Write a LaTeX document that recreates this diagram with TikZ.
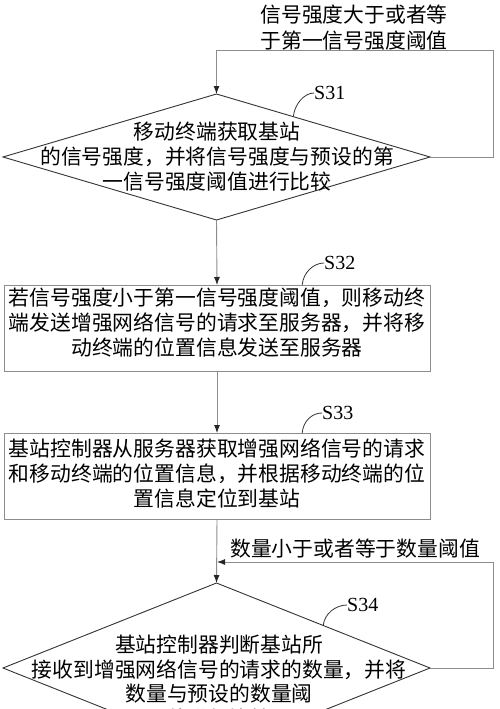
\documentclass[tikz,border=0pt]{standalone}
\usepackage{fontspec}
\setmainfont{Liberation Serif}
\newfontfamily\cjk{Noto Sans CJK SC}
\usetikzlibrary{shapes.geometric,arrows.meta,calc}
\definecolor{linegray}{gray}{0.55}
\definecolor{diagray}{gray}{0.2}
\begin{document}
\begin{tikzpicture}[x=1pt,y=-1pt,
  dia/.style={shape=diamond,draw=diagray,line width=0.9pt,inner sep=0pt,outer sep=0pt},
  stepbox/.style={shape=rectangle,draw=linegray,line width=0.9pt,inner sep=0pt,outer sep=0pt,minimum width=426pt,minimum height=86pt},
  cjktext/.style={inner sep=0pt,align=center,font=\cjk\fontsize{20.8}{25}\selectfont},
  steplabel/.style={inner sep=0pt,anchor=west,font=\fontsize{20}{22}\selectfont},
  conn/.style={draw=linegray,line width=0.9pt,-{Latex[length=8pt,width=6pt,color=black!85]}},
  plainline/.style={draw=linegray,line width=0.9pt},
  lead/.style={draw=diagray,line width=0.8pt}
]
\useasboundingbox (0,0) rectangle (500,709);
\clip (0,0) rectangle (500,709);
\fill[white] (0,0) rectangle (500,709);

% S31 diamond
\node[dia,minimum width=427pt,minimum height=126pt] (d1) at (216.5,157) {};
\node[cjktext] (t1) at (217,157) {移动终端获取基站\\的信号强度，并将信号强度与预设的第\\一信号强度阈值进行比较};

% S32 box
\node[stepbox] (b2) at (217,328) {};
\node[cjktext] (t2) at (217,323) {若信号强度小于第一信号强度阈值，则移动终\\端发送增强网络信号的请求至服务器，并将移\\动终端的位置信息发送至服务器};

% S33 box
\node[stepbox] (b3) at (217,476) {};
\node[cjktext] (t3) at (217,473) {基站控制器从服务器获取增强网络信号的请求\\和移动终端的位置信息，并根据移动终端的位\\置信息定位到基站};

% S34 diamond
\node[dia,minimum width=427pt,minimum height=170pt] (d4) at (216.5,668) {};
\node[cjktext,font=\cjk\fontsize{20.8}{24.5}\selectfont] (t4) at (219,681.5) {基站控制器判断基站所\\接收到增强网络信号的请求的数量，并将\\数量与预设的数量阈\\值进行比较};

% feedback labels
\node[cjktext,font=\cjk\fontsize{20.8}{26}\selectfont] (lab1) at (354,28) {信号强度大于或者等\\于第一信号强度阈值};
\node[cjktext] (lab2) at (355,549) {数量小于或者等于数量阈值};

% step labels
\node[steplabel] (s1) at (314,93) {S31};
\node[steplabel] (s2) at (324,263) {S32};
\node[steplabel] (s3) at (322,413) {S33};
\node[steplabel] (s4) at (347,605) {S34};

% leaders
\draw[lead] ($(d1.north)!0.36!(d1.east)$) .. controls +(1,-12) and +(-10,0) .. (s1.west);
\draw[lead] ($(b2.north west)!0.7!(b2.north east)$) .. controls +(1,-13) and +(-10,0) .. (s2.west);
\draw[lead] ($(b3.north west)!0.7!(b3.north east)$) .. controls +(1,-12) and +(-10,0) .. (s3.west);
\draw[lead] ($(d4.north)!0.5!(d4.east)$) .. controls +(1,-12) and +(-11,0) .. (s4.west);

% main flow
\draw[conn] (d1.south) -- (b2.north);
\draw[conn] (b2.south) -- (b3.north);
\draw[conn] (b3.south) -- (d4.north);

% feedback loops
\coordinate (r1) at (493,50);
\draw[conn] (d1.east) -| (r1) -| (d1.north);
\coordinate (r2) at (493,562);
\coordinate (j2) at (b3.south |- r2);
\draw[conn] (d4.east) -| (r2) -- (j2);
\end{tikzpicture}
\end{document}
